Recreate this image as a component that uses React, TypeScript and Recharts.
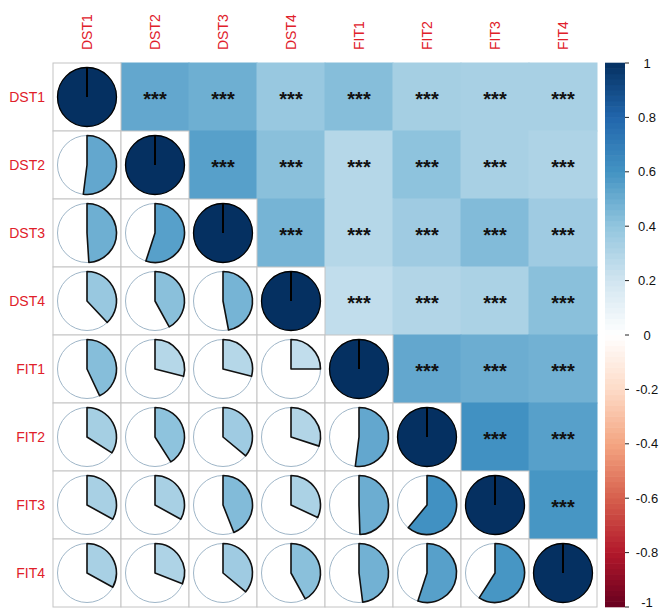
import React from 'react';
import { ScatterChart, Scatter, XAxis, YAxis } from 'recharts';

// ---------- data ----------
const VARS = ['DST1', 'DST2', 'DST3', 'DST4', 'FIT1', 'FIT2', 'FIT3', 'FIT4'];

const rowDST1 = [1, 0.52, 0.49, 0.38, 0.43, 0.34, 0.33, 0.33];
const rowDST2 = [0.52, 1, 0.55, 0.42, 0.29, 0.41, 0.33, 0.31];
const rowDST3 = [0.49, 0.55, 1, 0.47, 0.29, 0.36, 0.44, 0.36];
const rowDST4 = [0.38, 0.42, 0.47, 1, 0.25, 0.3, 0.32, 0.42];
const rowFIT1 = [0.43, 0.29, 0.29, 0.25, 1, 0.52, 0.495, 0.48];
const rowFIT2 = [0.34, 0.41, 0.36, 0.3, 0.52, 1, 0.61, 0.55];
const rowFIT3 = [0.33, 0.33, 0.44, 0.32, 0.495, 0.61, 1, 0.59];
const rowFIT4 = [0.33, 0.31, 0.36, 0.42, 0.48, 0.55, 0.59, 1];
const ROWS = [rowDST1, rowDST2, rowDST3, rowDST4, rowFIT1, rowFIT2, rowFIT3, rowFIT4];

const SIG_LABEL = '***';
const COLORBAR_TICKS = [-1, -0.8, -0.6, -0.4, -0.2, 0, 0.2, 0.4, 0.6, 0.8, 1];
// RdBu palette (value -1 .. 1)
const PALETTE = ['#67001F', '#B2182B', '#D6604D', '#F4A582', '#FDDBC7', '#FFFFFF', '#D1E5F0', '#92C5DE', '#4393C3', '#2166AC', '#053061'];

// ---------- layout constants ----------
const W = 667;
const H = 611;
const LEFT = 53;
const TOP = 63;
const PLOT = 544;
const N = VARS.length;
const CELL = PLOT / N;
const R = 29.5;
const FONT = '"Liberation Sans", Arial, sans-serif';
const LABEL_COLOR = '#E0202A';
const GRID = '#C4C4C4';
const CB_LEFT = 605;
const CB_WIDTH = 20;
const CB_AXIS_W = W - CB_LEFT - CB_WIDTH;
const CB_BANDS = 100;

function hexToRgb(h: string) {
  const v = parseInt(h.slice(1), 16);
  return [(v >> 16) & 255, (v >> 8) & 255, v & 255];
}
function colorFor(r: number) {
  const t = ((r + 1) / 2) * (PALETTE.length - 1);
  const i = Math.min(PALETTE.length - 2, Math.max(0, Math.floor(t)));
  const f = t - i;
  const a = hexToRgb(PALETTE[i]);
  const b = hexToRgb(PALETTE[i + 1]);
  const c = a.map((v, k) => Math.round(v + (b[k] - v) * f));
  return `rgb(${c[0]},${c[1]},${c[2]})`;
}

type Cell = { x: number; y: number; r: number; part: 'upper' | 'diag' | 'lower' };
const upperCells: Cell[] = [];
const otherCells: Cell[] = [];
ROWS.forEach((row, i) => {
  row.forEach((r, j) => {
    const c: Cell = { x: j + 0.5, y: i + 0.5, r, part: j > i ? 'upper' : j === i ? 'diag' : 'lower' };
    if (c.part === 'upper') upperCells.push(c);
    else otherCells.push(c);
  });
});
const cells = [...upperCells, ...otherCells];
const TICKS = VARS.map((_, i) => i + 0.5);

// colour-bar bands (value ranges)
const bands = Array.from({ length: CB_BANDS }, (_, k) => {
  const lo = -1 + (2 * k) / CB_BANDS;
  const hi = -1 + (2 * (k + 1)) / CB_BANDS;
  return { x: 0.5, y: (lo + hi) / 2, color: colorFor((lo + hi) / 2) };
});

function renderCell(props: any) {
  const { cx, cy, payload } = props;
  const p: Cell = payload;
  const half = CELL / 2;
  if (p.part === 'upper') {
    return (
      <g>
        <rect x={cx - half - 0.5} y={cy - half - 0.5} width={CELL + 1} height={CELL + 1} fill={colorFor(p.r)} stroke="none" />
        <text x={cx} y={cy + 9} textAnchor="middle" fontFamily={FONT} fontWeight="bold" fontSize={20} fill="#111">
          {SIG_LABEL}
        </text>
      </g>
    );
  }
  const frac = Math.abs(p.r);
  const col = colorFor(p.r);
  let wedge: React.ReactNode;
  if (frac >= 0.999) {
    wedge = (
      <g>
        <circle cx={cx} cy={cy} r={R} fill={col} stroke="#000" strokeWidth={1.3} />
        <line x1={cx} y1={cy} x2={cx} y2={cy - R} stroke="#000" strokeWidth={2} />
      </g>
    );
  } else {
    const th = 2 * Math.PI * frac;
    const ex = cx + R * Math.sin(th);
    const ey = cy - R * Math.cos(th);
    const large = frac > 0.5 ? 1 : 0;
    const d = `M ${cx} ${cy} L ${cx} ${cy - R} A ${R} ${R} 0 ${large} 1 ${ex} ${ey} Z`;
    wedge = <path d={d} fill={col} stroke="#111" strokeWidth={1.6} strokeLinejoin="round" />;
  }
  return (
    <g>
      <rect x={cx - half} y={cy - half} width={CELL} height={CELL} fill="#fff" stroke={GRID} strokeWidth={1} />
      <circle cx={cx} cy={cy} r={R} fill="#fff" stroke="#9FB6C8" strokeWidth={1} />
      {wedge}
    </g>
  );
}

function renderBand(props: any) {
  const { cx, cy, payload } = props;
  const h = PLOT / CB_BANDS;
  return <rect x={cx - CB_WIDTH / 2} y={cy - h / 2 - 0.3} width={CB_WIDTH} height={h + 0.6} fill={payload.color} stroke="none" />;
}

const TopTick = (props: any) => {
  const { x, payload } = props;
  const label = VARS[Math.floor(payload.value)];
  const y = TOP - 13;
  return (
    <text x={x} y={y} transform={`rotate(-90, ${x}, ${y})`} textAnchor="start" dominantBaseline="central" fontFamily={FONT} fontSize={14} fill={LABEL_COLOR}>
      {label}
    </text>
  );
};

const LeftTick = (props: any) => {
  const { y, payload } = props;
  const label = VARS[Math.floor(payload.value)];
  return (
    <text x={LEFT - 8} y={y} textAnchor="end" dominantBaseline="central" fontFamily={FONT} fontSize={14} fill={LABEL_COLOR}>
      {label}
    </text>
  );
};

const CbTick = (props: any) => {
  const { y, payload } = props;
  const bx = CB_WIDTH;
  const ty = Math.min(y, H - 9);
  return (
    <g>
      <line x1={bx} y1={y} x2={bx + 4} y2={y} stroke="#222" strokeWidth={1} />
      <text x={bx + 22} y={ty} textAnchor="middle" dominantBaseline="central" fontFamily={FONT} fontSize={13} fill="#111">
        {String(payload.value)}
      </text>
    </g>
  );
};

export default function App() {
  return (
    <div style={{ position: 'absolute', left: 0, top: 0, width: W, height: H, background: '#fff' }}>
      <div style={{ position: 'absolute', left: 0, top: 0 }}>
        <ScatterChart width={LEFT + PLOT + 4} height={H} margin={{ top: TOP - 50, right: 4, bottom: H - TOP - PLOT, left: 0 }}>
          <XAxis type="number" dataKey="x" domain={[0, N]} ticks={TICKS} orientation="top" height={50} axisLine={false} tickLine={false} tick={<TopTick />} interval={0} />
          <YAxis type="number" dataKey="y" domain={[0, N]} reversed ticks={TICKS} width={LEFT} axisLine={false} tickLine={false} tick={<LeftTick />} interval={0} />
          <Scatter data={cells} shape={renderCell} isAnimationActive={false} />
        </ScatterChart>
      </div>
      <div style={{ position: 'absolute', left: CB_LEFT, top: 0 }}>
        <ScatterChart width={CB_WIDTH + CB_AXIS_W} height={H} margin={{ top: TOP, right: 0, bottom: H - TOP - PLOT, left: 0 }}>
          <XAxis type="number" dataKey="x" domain={[0, 1]} hide />
          <YAxis type="number" dataKey="y" domain={[-1, 1]} ticks={COLORBAR_TICKS} orientation="right" width={CB_AXIS_W} axisLine={false} tickLine={false} tickSize={0} tickMargin={0} tick={<CbTick />} interval={0} />
          <Scatter data={bands} shape={renderBand} isAnimationActive={false} />
        </ScatterChart>
      </div>
    </div>
  );
}
